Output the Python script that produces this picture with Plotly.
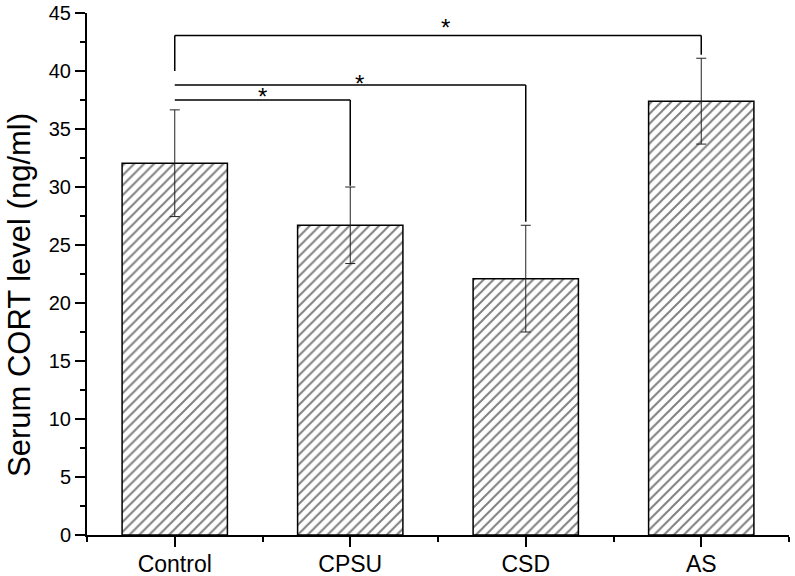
import plotly.graph_objects as go

categories = ["Control", "CPSU", "CSD", "AS"]
cort_mean = [32.05, 26.7, 22.1, 37.4]
cort_err = [4.6, 3.3, 4.6, 3.7]

# significance brackets: (start category idx, end category idx, bar height, left leg bottom, right leg bottom)
brackets = [
    (0, 3, 43.05, 40.0, 41.4),
    (0, 2, 38.8, None, 27.0),
    (0, 1, 37.5, None, 30.1),
]
stars = [(1.545, 44.0), (1.05, 39.2), (0.5, 38.1)]

xpos = list(range(len(categories)))

fig = go.Figure()
fig.add_trace(go.Bar(
    x=xpos, y=cort_mean, width=0.6,
    marker=dict(color="white", line=dict(color="black", width=1.5),
                pattern=dict(shape="/", fgcolor="black", bgcolor="white", size=7, solidity=0.28)),
    error_y=dict(type="data", array=cort_err, visible=True, color="#222222", thickness=1, width=5),
    showlegend=False,
))

shapes = []
for a, b, h, lb, rb in brackets:
    if lb is not None:
        shapes.append(dict(type="line", x0=a, x1=a, y0=lb, y1=h, xref="x", yref="y",
                           line=dict(color="black", width=1.5)))
    shapes.append(dict(type="line", x0=a, x1=b, y0=h, y1=h, xref="x", yref="y",
                       line=dict(color="black", width=1.5)))
    shapes.append(dict(type="line", x0=b, x1=b, y0=h, y1=rb, xref="x", yref="y",
                       line=dict(color="black", width=1.5)))

annotations = []
for sx, sy in stars:
    annotations.append(dict(x=sx, y=sy, xref="x", yref="y", text="*", showarrow=False,
                            font=dict(family="Liberation Sans, Arial", size=24, color="black"),
                            yanchor="middle", yshift=-3))
annotations.append(dict(x=-0.096, y=0.459, xref="paper", yref="paper", text="Serum CORT level (ng/ml)",
                        textangle=-90, showarrow=False, xanchor="center", yanchor="middle",
                        font=dict(family="Liberation Sans, Arial", size=31, color="black")))

fig.update_layout(
    width=795, height=576,
    margin=dict(l=87, r=6, t=13, b=41),
    paper_bgcolor="white", plot_bgcolor="white",
    shapes=shapes, annotations=annotations,
    font=dict(family="Liberation Sans, Arial", color="black"),
    xaxis=dict(range=[-0.5, 3.5], tickvals=xpos, ticktext=categories, automargin=False,
               showline=True, linecolor="black", linewidth=2, mirror=False,
               ticks="outside", ticklen=10, tickwidth=2, tickcolor="black",
               tickfont=dict(size=23), showgrid=False, zeroline=False, ticklabelstandoff=-3,
               minor=dict(tickvals=[-0.5, 0.5, 1.5, 2.5, 3.5], ticks="outside", ticklen=5,
                          tickwidth=2, tickcolor="black", showgrid=False)),
    yaxis=dict(range=[0, 45], tickvals=[0, 5, 10, 15, 20, 25, 30, 35, 40, 45], automargin=False,
               showline=True, linecolor="black", linewidth=2, mirror=False,
               ticks="outside", ticklen=10, tickwidth=2, tickcolor="black",
               tickfont=dict(size=20), showgrid=False, zeroline=False,
               minor=dict(dtick=2.5, tick0=0, ticks="outside", ticklen=5, tickwidth=2,
                          tickcolor="black", showgrid=False)),
)

fig.write_html("out.html", config={"displayModeBar": False},
               post_script="document.body.style.margin='0';document.body.style.overflow='hidden';")
